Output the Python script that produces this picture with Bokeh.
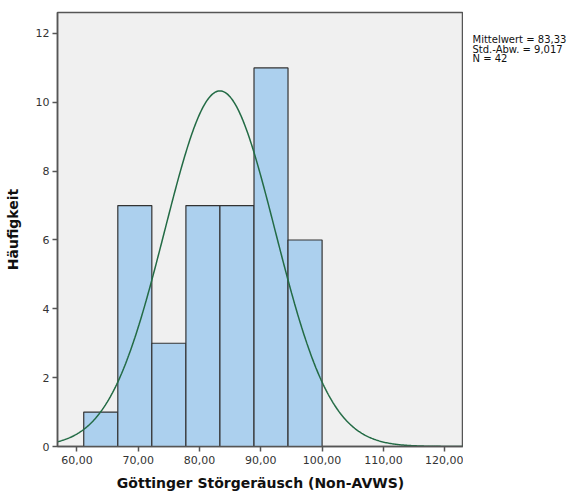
import numpy as np
from bokeh.plotting import figure
from bokeh.models import FixedTicker, Range1d
from bokeh.layouts import row
from bokeh.core.properties import value
from bokeh.embed import file_html
from bokeh.resources import INLINE

# Data
bin_edges = [61.11, 66.67, 72.22, 77.78, 83.33, 88.89, 94.44, 100.00]
counts = [1, 7, 3, 7, 7, 11, 6]
mean_val = 83.33
sd_val = 9.017
n_val = 42
x_ticks = [60, 70, 80, 90, 100, 110, 120]
x_tick_labels = ["60,00", "70,00", "80,00", "90,00", "100,00", "110,00", "120,00"]
y_ticks = [0, 2, 4, 6, 8, 10, 12]
stats_lines = ["Mittelwert = 83,33", "Std.-Abw. = 9,017", "N = 42"]

FONT = "DejaVu Sans"

p = figure(width=463, height=493, output_backend="svg", toolbar_location=None,
           x_range=Range1d(56.83, 123.07), y_range=Range1d(0, 12.61),
           min_border_left=57, min_border_right=0, min_border_top=12, min_border_bottom=46)
p.background_fill_color = "#f0f0f0"
p.border_fill_color = "white"
p.outline_line_color = "#555555"
p.outline_line_width = 1.5
p.xgrid.visible = False
p.ygrid.visible = False

p.quad(left=bin_edges[:-1], right=bin_edges[1:], bottom=0, top=counts,
       fill_color="#acd0ee", line_color="#333333", line_width=1.2)

bw = bin_edges[1] - bin_edges[0]
xs = np.linspace(56.83, 123.07, 400)
ys = n_val * bw / (sd_val * np.sqrt(2 * np.pi)) * np.exp(-0.5 * ((xs - mean_val) / sd_val) ** 2)
p.line(xs, ys, line_color="#236b45", line_width=1.5)

for ax in (p.xaxis[0], p.yaxis[0]):
    ax.axis_line_color = "#555555"
    ax.axis_line_width = 1.5
    ax.major_tick_line_color = "#555555"
    ax.major_tick_line_width = 1.5
    ax.major_tick_out = 5
    ax.major_tick_in = 0
    ax.minor_tick_line_color = None
    ax.major_label_text_font = FONT
    ax.major_label_text_font_size = "11px"
    ax.major_label_text_color = "#333333"
    ax.axis_label_text_font = FONT
    ax.axis_label_text_font_style = "bold"
    ax.axis_label_text_font_size = "14px"
    ax.axis_label_text_color = "#111111"

p.xaxis.ticker = FixedTicker(ticks=x_ticks)
p.xaxis.major_label_overrides = {t: l for t, l in zip(x_ticks, x_tick_labels)}
p.yaxis.ticker = FixedTicker(ticks=y_ticks)
p.xaxis.axis_label = "Göttinger Störgeräusch (Non-AVWS)"
p.yaxis.axis_label = "Häufigkeit"
p.xaxis.axis_label_standoff = 8
p.yaxis.axis_label_standoff = 12
p.xaxis.major_label_standoff = 4
p.yaxis.major_label_standoff = 3

# Side panel with the statistics text (frame aligned with main plot frame)
s = figure(width=112, height=493, output_backend="svg", toolbar_location=None,
           x_range=Range1d(0, 112), y_range=Range1d(46, 481),
           x_axis_type=None, y_axis_type=None,
           min_border_left=0, min_border_right=0, min_border_top=12, min_border_bottom=46)
s.outline_line_color = None
s.background_fill_color = "white"
s.border_fill_color = "white"
s.xgrid.visible = False
s.ygrid.visible = False
s.text(x=[9] * len(stats_lines), y=[493 - 39 - i * 9.7 for i in range(len(stats_lines))],
       text=stats_lines, text_font=value(FONT), text_font_size="10px",
       text_color="#111111", text_baseline="middle", text_align="left")

layout = row(p, s, spacing=0)
open("out.html", "w").write(file_html(layout, INLINE))
